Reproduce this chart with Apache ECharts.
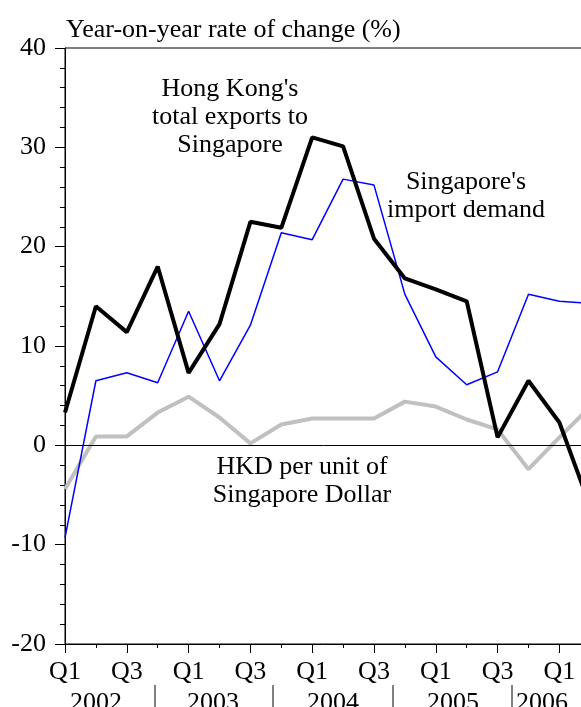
<!DOCTYPE html>
<html>
<head>
<meta charset="utf-8">
<script src="https://cdn.jsdelivr.net/npm/echarts@6/dist/echarts.min.js"></script>
<style>
  html, body { margin: 0; padding: 0; background: #fff; }
  #chart { width: 581px; height: 707px; }
</style>
</head>
<body>
<div id="chart"></div>
<script>
// quarters 2002 Q1 .. 2006 Q2
var quarters = ['Q1','Q2','Q3','Q4','Q1','Q2','Q3','Q4','Q1','Q2','Q3','Q4','Q1','Q2','Q3','Q4','Q1','Q2'];
var years = ['2002', '2003', '2004', '2005', '2006'];

// year-on-year % change
var hkExports = [3.3, 14.0, 11.4, 18.0, 7.3, 12.2, 22.5, 21.9, 31.0, 30.1, 20.8, 16.8, 15.7, 14.5, 0.8, 6.5, 2.3, -6.2];
var sgImports = [-9.3, 6.5, 7.3, 6.3, 13.5, 6.5, 12.1, 21.4, 20.7, 26.8, 26.2, 15.2, 8.9, 6.1, 7.4, 15.2, 14.5, 14.3];
var hkdPerSgd = [-4.4, 0.9, 0.9, 3.3, 4.9, 2.8, 0.2, 2.1, 2.7, 2.7, 2.7, 4.4, 3.9, 2.6, 1.6, -2.4, 0.8, 3.9];

var font = 'Liberation Serif';
var fs = 26;

// year labels under the quarter labels, with little separators
var yearText = [];
var yearX = [96, 213, 333, 453, 516];
var sepX = [155, 273, 393, 512];
for (var i = 0; i < years.length; i++) {
    yearText.push({
        type: 'text',
        x: yearX[i],
        y: 703,
        style: {
            text: years[i],
            font: fs + 'px "' + font + '"',
            fill: '#000',
            align: i == years.length - 1 ? 'left' : 'center',
            verticalAlign: 'middle'
        }
    });
}
for (var j = 0; j < sepX.length; j++) {
    yearText.push({
        type: 'line',
        shape: { x1: sepX[j], y1: 685, x2: sepX[j], y2: 707 },
        style: { stroke: '#000', lineWidth: 1 }
    });
}

var chart = echarts.init(document.getElementById('chart'));
chart.setOption({
    animation: false,
    backgroundColor: '#fff',
    textStyle: { fontFamily: font, color: '#000' },
    title: {
        text: 'Year-on-year rate of change (%)',
        left: 66,
        top: 17,
        padding: 0,
        textStyle: { fontFamily: font, fontSize: fs, fontWeight: 'normal', color: '#000' }
    },
    grid: {
        left: 65,
        top: 48,
        bottom: 63,
        right: -9.3,
        show: true,
        borderColor: '#000',
        borderWidth: 1,
        outerBoundsMode: 'none'
    },
    xAxis: [{
        type: 'category',
        data: quarters,
        boundaryGap: false,
        position: 'bottom',
        axisLine: { onZero: false, lineStyle: { color: '#000', width: 1 } },
        axisTick: { interval: 0, length: 4, lineStyle: { color: '#000' } },
        axisLabel: { interval: 1, fontSize: fs, color: '#000', fontFamily: font, margin: 15 },
        splitLine: { show: false }
    }, {
        // longer ticks on Q1 and Q3
        type: 'category',
        data: quarters,
        boundaryGap: false,
        position: 'bottom',
        axisLine: { show: false, onZero: false },
        axisTick: { interval: 1, length: 9, lineStyle: { color: '#000' } },
        axisLabel: { show: false },
        splitLine: { show: false }
    }],
    yAxis: {
        type: 'value',
        min: -20,
        max: 40,
        interval: 10,
        axisLine: { show: true, lineStyle: { color: '#000', width: 1 } },
        axisTick: { show: true, length: 10, lineStyle: { color: '#000' } },
        minorTick: { show: true, splitNumber: 5, length: 5, lineStyle: { color: '#000' } },
        axisLabel: { fontSize: fs, color: '#000', fontFamily: font, margin: 19 },
        splitLine: { show: false }
    },
    series: [
        {
            name: 'HKD per unit of Singapore Dollar',
            type: 'line',
            data: hkdPerSgd,
            symbol: 'none',
            lineStyle: { color: '#c0c0c0', width: 4 },
            markLine: {
                silent: true,
                symbol: 'none',
                label: { show: false },
                lineStyle: { color: '#000', width: 1, type: 'solid' },
                data: [{ yAxis: 0 }]
            }
        },
        {
            name: "Singapore's import demand",
            type: 'line',
            data: sgImports,
            symbol: 'none',
            lineStyle: { color: '#0000ff', width: 1.5 }
        },
        {
            name: "Hong Kong's total exports to Singapore",
            type: 'line',
            data: hkExports,
            symbol: 'none',
            lineStyle: { color: '#000', width: 4 }
        }
    ],
    graphic: [
        {
            type: 'text', x: 230, y: 117,
            style: {
                text: "Hong Kong's\ntotal exports to\nSingapore",
                font: fs + 'px "' + font + '"', fill: '#000',
                align: 'center', verticalAlign: 'middle', lineHeight: 28
            }
        },
        {
            type: 'text', x: 466, y: 196,
            style: {
                text: "Singapore's\nimport demand",
                font: fs + 'px "' + font + '"', fill: '#000',
                align: 'center', verticalAlign: 'middle', lineHeight: 28
            }
        },
        {
            type: 'text', x: 302, y: 481,
            style: {
                text: 'HKD per unit of\nSingapore Dollar',
                font: fs + 'px "' + font + '"', fill: '#000',
                align: 'center', verticalAlign: 'middle', lineHeight: 28
            }
        }
    ].concat(yearText)
});
</script>
</body>
</html>
